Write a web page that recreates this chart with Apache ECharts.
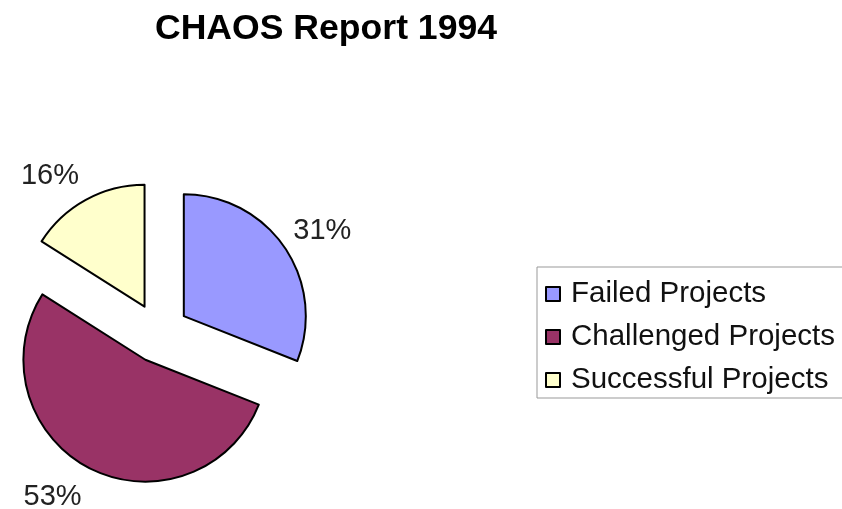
<!DOCTYPE html>
<html><head><meta charset="utf-8">
<script src="https://cdn.jsdelivr.net/npm/echarts@6/dist/echarts.min.js"></script>
<style>html,body{margin:0;padding:0;background:#fff}#c{width:842px;height:509px}</style>
</head><body><div id="c"></div>
<script>
const categories = ['Failed Projects', 'Challenged Projects', 'Successful Projects'];
const values = [31, 53, 16];
const colors = ['#9999FF', '#993366', '#FFFFCC'];
const labelShift = [[-12, -9], [7, 16], [9, -12]];

const chart = echarts.init(document.getElementById('c'), null, {renderer: 'canvas'});
chart.setOption({
  animation: false,
  backgroundColor: '#fff',
  title: {
    text: 'CHAOS Report 1994',
    left: 321, top: 6, textAlign: 'center',
    textStyle: {fontFamily: 'Liberation Sans, Arial', fontWeight: 'bold', fontSize: 35.6, color: '#000'}
  },
  legend: {
    orient: 'vertical',
    left: 537, top: 267,
    padding: [12, 40, 3, 8],
    itemGap: 13,
    itemWidth: 14, itemHeight: 14,
    icon: 'rect',
    borderColor: '#999', borderWidth: 1,
    selectedMode: false,
    data: categories,
    itemStyle: {borderColor: '#000', borderWidth: 2},
    textStyle: {fontFamily: 'Liberation Sans, Arial', fontSize: 29.5, color: '#111', padding: [0, 0, 0, 6]}
  },
  series: [{
    type: 'pie',
    center: [159, 333],
    radius: [0, 122],
    startAngle: 90,
    clockwise: true,
    selectedMode: 'multiple',
    selectedOffset: 30,
    emphasis: {disabled: true},
    itemStyle: {borderColor: '#000', borderWidth: 2},
    label: {
      show: true, position: 'outside',
      formatter: '{c}%',
      fontFamily: 'Liberation Sans, Arial', fontSize: 29, color: '#222'
    },
    labelLine: {show: false, length: 14, length2: 4},
    labelLayout: function (p) {
      const s = labelShift[p.dataIndex];
      return {dx: s[0], dy: s[1]};
    },
    data: categories.map((n, i) => ({name: n, value: values[i], selected: true, itemStyle: {color: colors[i]}}))
  }]
});
</script></body></html>
